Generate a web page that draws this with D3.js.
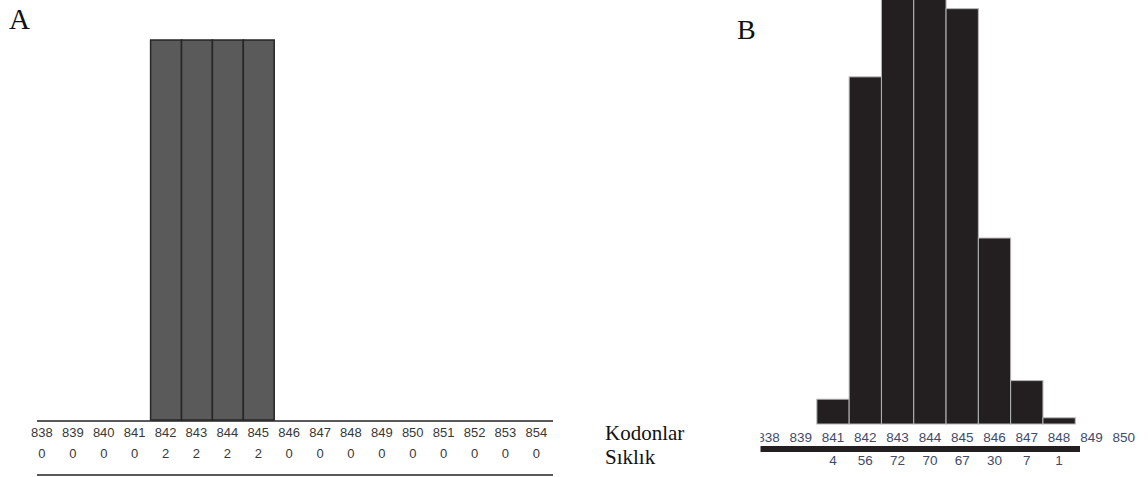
<html>
<head>
    <title>Kodon Sıklık</title>
    <script src="https://d3js.org/d3.v7.min.js"></script>
    <style>
        body { margin: 0; background: #fff; }
    </style>
</head>
<body>
    <svg id="chart" width="1148" height="477"></svg>

    <script>
    // panel A data
    const codonsA = ["838", "839", "840", "841", "842", "843", "844", "845", "846",
                     "847", "848", "849", "850", "851", "852", "853", "854"];
    const freqA = [0, 0, 0, 0, 2, 2, 2, 2, 0, 0, 0, 0, 0, 0, 0, 0, 0];

    // panel B data (840 is missing in the original labels)
    const codonsB = ["838", "839", "841", "842", "843", "844", "845", "846", "847", "848", "849", "850"];
    const freqB = [null, null, 4, 56, 72, 70, 67, 30, 7, 1, null, null];

    const rowLabels = ["Kodonlar", "Sıklık"];

    const svg = d3.select('#chart');

    // ---------- Panel A ----------
    const xA = d3.scaleBand().domain(codonsA).range([26.5, 26.5 + 17 * 30.9]).padding(0);
    const yA = d3.scaleLinear().domain([0, 2]).range([420, 40]);

    const gA = svg.append('g');

    gA.selectAll('rect.bar')
        .data(codonsA.map((c, i) => ({ c: c, v: freqA[i] })).filter(d => d.v > 0))
        .enter()
        .append('rect')
        .attr('class', 'bar')
        .attr('x', d => xA(d.c) + 0.5)
        .attr('y', d => yA(d.v))
        .attr('width', xA.bandwidth())
        .attr('height', d => yA(0) - yA(d.v))
        .attr('fill', '#5a5a5a')
        .attr('stroke', '#262626')
        .attr('stroke-width', 1.5);

    gA.append('line')
        .attr('x1', 37).attr('x2', 553)
        .attr('y1', 421).attr('y2', 421)
        .attr('stroke', '#222').attr('stroke-width', 1.5);

    gA.append('line')
        .attr('x1', 37).attr('x2', 553)
        .attr('y1', 475).attr('y2', 475)
        .attr('stroke', '#222').attr('stroke-width', 1.5);

    gA.selectAll('text.code')
        .data(codonsA)
        .enter()
        .append('text')
        .attr('class', 'code')
        .attr('x', d => xA(d) + xA.bandwidth() / 2)
        .attr('y', 437)
        .attr('text-anchor', 'middle')
        .attr('font-family', 'Liberation Sans, Arial, sans-serif')
        .attr('font-size', 13)
        .attr('fill', '#383838')
        .text(d => d);

    gA.selectAll('text.freq')
        .data(freqA)
        .enter()
        .append('text')
        .attr('class', 'freq')
        .attr('x', (d, i) => xA(codonsA[i]) + xA.bandwidth() / 2)
        .attr('y', 458)
        .attr('text-anchor', 'middle')
        .attr('font-family', 'Liberation Sans, Arial, sans-serif')
        .attr('font-size', 13)
        .attr('fill', '#383838')
        .text(d => d);

    // row titles
    svg.selectAll('text.row')
        .data(rowLabels)
        .enter()
        .append('text')
        .attr('class', 'row')
        .attr('x', 605)
        .attr('y', (d, i) => 440 + i * 24)
        .attr('font-family', 'Liberation Serif, Times New Roman, serif')
        .attr('font-size', 21)
        .attr('fill', '#111')
        .text(d => d);

    // panel letters
    svg.append('text')
        .attr('x', 9).attr('y', 29)
        .attr('font-family', 'Liberation Serif, Times New Roman, serif')
        .attr('font-size', 29)
        .attr('fill', '#111')
        .text('A');

    svg.append('text')
        .attr('x', 737).attr('y', 39)
        .attr('font-family', 'Liberation Serif, Times New Roman, serif')
        .attr('font-size', 28)
        .attr('fill', '#111')
        .text('B');

    // ---------- Panel B ----------
    const stepB = 32.3;
    const xB = d3.scaleBand().domain(codonsB).range([752.25, 752.25 + 12 * stepB]).padding(0);
    const yB = d3.scaleLinear().domain([0, 68.4]).range([424, 0]);

    svg.append('defs').append('clipPath')
        .attr('id', 'clipB')
        .append('rect')
        .attr('x', 760.5).attr('y', 0)
        .attr('width', 388).attr('height', 477);

    const gB = svg.append('g').attr('clip-path', 'url(#clipB)');

    gB.selectAll('rect.bar')
        .data(codonsB.map((c, i) => ({ c: c, v: freqB[i] })).filter(d => d.v != null))
        .enter()
        .append('rect')
        .attr('class', 'bar')
        .attr('x', d => xB(d.c))
        .attr('y', d => yB(d.v))
        .attr('width', xB.bandwidth())
        .attr('height', d => yB(0) - yB(d.v))
        .attr('fill', '#231f20')
        .attr('stroke', '#b5b5b5')
        .attr('stroke-width', 1);

    gB.append('rect')
        .attr('x', 760).attr('y', 446)
        .attr('width', 320).attr('height', 6)
        .attr('fill', '#231f20');

    gB.selectAll('text.code')
        .data(codonsB)
        .enter()
        .append('text')
        .attr('class', 'code')
        .attr('x', d => xB(d) + xB.bandwidth() / 2)
        .attr('y', 442)
        .attr('text-anchor', 'middle')
        .attr('font-family', 'Liberation Sans, Arial, sans-serif')
        .attr('font-size', 13.5)
        .attr('fill', '#414a68')
        .text(d => d);

    gB.selectAll('text.freq')
        .data(codonsB.map((c, i) => ({ c: c, v: freqB[i] })).filter(d => d.v != null))
        .enter()
        .append('text')
        .attr('class', 'freq')
        .attr('x', d => xB(d.c) + xB.bandwidth() / 2)
        .attr('y', 465)
        .attr('text-anchor', 'middle')
        .attr('font-family', 'Liberation Sans, Arial, sans-serif')
        .attr('font-size', 13.5)
        .attr('fill', '#414a68')
        .text(d => d.v);
    </script>
</body>
</html>
